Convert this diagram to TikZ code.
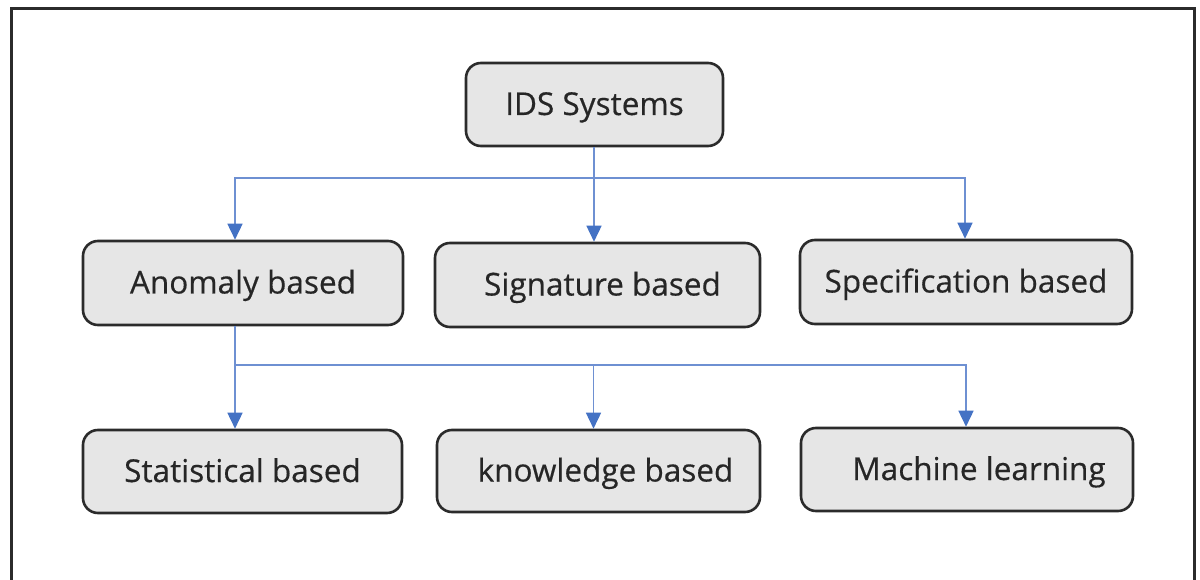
\documentclass[tikz,border=0pt]{standalone}
\usepackage{fontspec}
\setmainfont{Open Sans}
\newfontfamily\boxfont{Open Sans}[FakeBold=0.45]
\usetikzlibrary{arrows.meta}
\definecolor{boxfill}{HTML}{E6E6E6}
\definecolor{boxline}{HTML}{2B2B2B}
\definecolor{txt}{HTML}{262626}
\definecolor{conn}{HTML}{4472C4}
\definecolor{connl}{HTML}{6E90D2}
\begin{document}
\begin{tikzpicture}[x=1pt,y=-1pt,
  box/.style={draw=boxline, line width=2.6pt, fill=boxfill, rounded corners=15pt,
    inner sep=0pt, text=txt, text height=25pt, text depth=4pt,
    font=\boxfont\fontsize{31.5}{36}\selectfont\addfontfeature{FakeBold=0.45}},
  link/.style={draw=connl, line width=1.6pt},
  arr/.style={link, -{Triangle[width=15pt,length=16pt,fill=conn,color=conn]}}]
\useasboundingbox (0,0) rectangle (1200,580);
\begin{scope}
\clip (0,0) rectangle (1200,580);
\draw[line width=3pt, boxline] (11,9) rectangle (1194,640);
\end{scope}
% boxes
\node[box, minimum width=257pt, minimum height=83pt] (ids) at (594.5,104.5) {IDS Systems};
\node[box, minimum width=320pt, minimum height=84pt] (anom) at (243,283) {Anomaly based};
\node[box, minimum width=325pt, minimum height=84pt] (sig) at (597.5,285) {\hspace*{10pt}Signature based};
\node[box, minimum width=332pt, minimum height=84pt] (spec) at (966,282) {Specification based};
\node[box, minimum width=319pt, minimum height=83pt] (stat) at (242.5,471.5) {Statistical based};
\node[box, minimum width=323pt, minimum height=82pt] (know) at (598.5,471) {\hspace*{14pt}knowledge based};
\node[box, minimum width=332pt, minimum height=83pt] (mach) at (967,469.5) {\hspace*{24pt}Machine learning};
% junctions
\coordinate (j1) at (594,178);
\coordinate (j2) at (235,365);
% top level connectors
\draw[arr] ([xshift=-0.5pt]ids.south) -- ([xshift=-0.5pt]ids.south |- sig.north);
\draw[arr] (j1) -| ([xshift=-8pt]anom.north);
\draw[arr] (j1) -| ([xshift=-1pt]spec.north);
% second level connectors
\draw[link] ([xshift=-8pt]anom.south) -- (j2);
\draw[arr] (j2) -- ([xshift=-7.5pt]stat.north);
\draw[arr] (j2) -| ([xshift=-5pt]know.north);
\draw[arr] (j2) -| ([xshift=-1pt]mach.north);
\end{tikzpicture}
\end{document}
